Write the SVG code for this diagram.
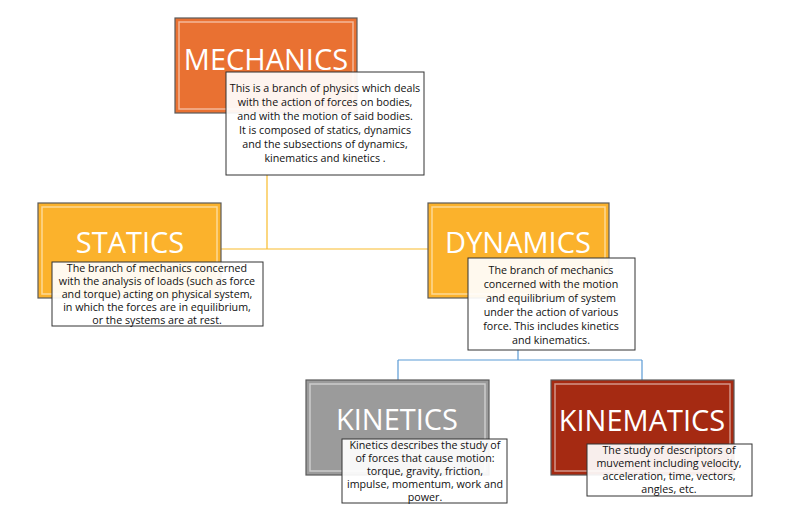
<svg xmlns="http://www.w3.org/2000/svg" width="798" height="519" viewBox="0 0 798 519">
<style>
.hd{stroke:#5a5a5a;stroke-width:1.2}
.in{fill:none;stroke:#ffffff;stroke-opacity:.5;stroke-width:1.5}
.t{font-family:"Open Sans","Liberation Sans",sans-serif;font-size:29px;fill:#fff;text-anchor:middle}
.bx{fill:#fff;fill-opacity:.92;stroke:#333;stroke-width:1}
.d{font-family:"Open Sans","Liberation Sans",sans-serif;font-size:10.7px;fill:#111;text-anchor:middle}
</style>
<rect width="798" height="519" fill="#fff"/>
<g id="connectors" fill="none" stroke-width="1.2">
<path d="M267 175V249M221 249H428" stroke="#f9bc2c"/>
<path d="M518 350V360M398 360H642M398 360V380M642 360V380" stroke="#5b9bd5"/>
</g>
<g id="mechanics">
<rect class="hd" x="175" y="18" width="182" height="95" fill="#e97132"/>
<rect class="in" x="179" y="22" width="174" height="87"/>
<text class="t" x="266" y="70">MECHANICS</text>
<rect class="bx" x="226" y="72" width="198" height="103"/>
<text class="d" x="325" y="92">This is a branch of physics which deals</text>
<text class="d" x="325" y="106">with the action of forces on bodies,</text>
<text class="d" x="325" y="120">and with the motion   of said bodies.</text>
<text class="d" x="325" y="134">It is composed of statics, dynamics</text>
<text class="d" x="325" y="148">and the subsections of dynamics,</text>
<text class="d" x="325" y="162">kinematics and kinetics .</text>
</g>
<g id="statics">
<rect class="hd" x="38" y="203" width="183" height="95" fill="#fbb22c"/>
<rect class="in" x="42" y="207" width="175" height="87"/>
<text class="t" x="130" y="253">STATICS</text>
<rect class="bx" x="52" y="262" width="211" height="64"/>
<text class="d" x="157" y="272">The branch of mechanics concerned</text>
<text class="d" x="157" y="285">with the analysis of loads (such as force</text>
<text class="d" x="157" y="298">and torque) acting on physical system,</text>
<text class="d" x="157" y="311">in which the forces are in equilibrium,</text>
<text class="d" x="157" y="324">or the systems are at rest.</text>
</g>
<g id="dynamics">
<rect class="hd" x="428" y="203" width="181" height="95" fill="#fbb22c"/>
<rect class="in" x="432" y="207" width="173" height="87"/>
<text class="t" x="518" y="253">DYNAMICS</text>
<rect class="bx" x="468" y="258" width="167" height="92"/>
<text class="d" x="551" y="274">The branch of mechanics</text>
<text class="d" x="551" y="288">concerned  with the motion</text>
<text class="d" x="551" y="302">and equilibrium of system</text>
<text class="d" x="551" y="316">under the action of various</text>
<text class="d" x="551" y="330">force. This includes kinetics</text>
<text class="d" x="551" y="344">and kinematics.</text>
</g>
<g id="kinetics">
<rect class="hd" x="306" y="380" width="183" height="95" fill="#9b9b9b"/>
<rect class="in" x="310" y="384" width="175" height="87"/>
<text class="t" x="397" y="430">KINETICS</text>
<rect class="bx" x="342" y="439" width="165" height="64"/>
<text class="d" x="425" y="449">Kinetics describes the study of</text>
<text class="d" x="425" y="462">of forces that cause motion:</text>
<text class="d" x="425" y="475">torque, gravity, friction,</text>
<text class="d" x="425" y="488">impulse, momentum, work and</text>
<text class="d" x="425" y="501">power.</text>
</g>
<g id="kinematics">
<rect class="hd" x="551" y="380" width="183" height="95" fill="#a52a12"/>
<rect class="in" x="555" y="384" width="175" height="87"/>
<text class="t" x="642" y="431">KINEMATICS</text>
<rect class="bx" x="587" y="444" width="165" height="52"/>
<text class="d" x="669" y="454">The study of descriptors of</text>
<text class="d" x="669" y="467">muvement including velocity,</text>
<text class="d" x="669" y="480">acceleration, time, vectors,</text>
<text class="d" x="669" y="493">angles, etc.</text>
</g>
</svg>
